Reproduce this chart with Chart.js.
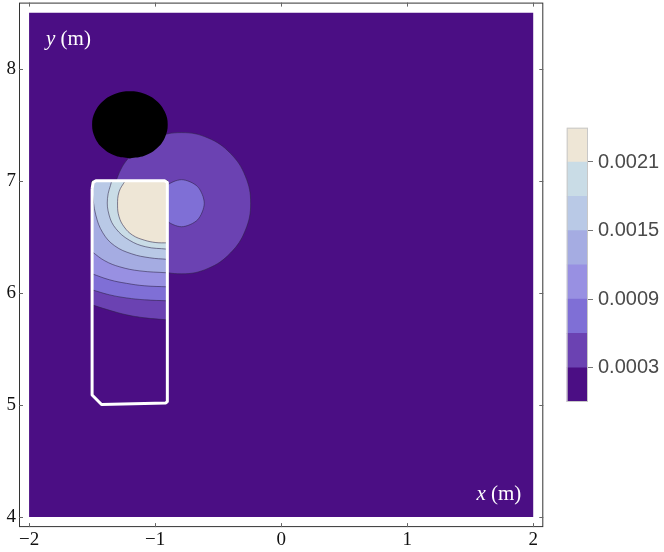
<!DOCTYPE html>
<html>
<head>
<meta charset="utf-8">
<script src="https://cdn.jsdelivr.net/npm/chart.js@4.4.1/dist/chart.umd.min.js"></script>
<style>
  html, body { margin: 0; background: #fff; }
  #plot { position: absolute; left: 0; top: 0; }
  #cbar { position: absolute; left: 555px; top: 115px; }
</style>
</head>
<body>
<canvas id="plot" width="555" height="552"></canvas>
<canvas id="cbar" width="109" height="300"></canvas>
<script>
// ─── Values (x, y in metres) ───
const xTicks = [-2, -1, 0, 1, 2];
const yTicks = [4, 5, 6, 7, 8];
const cbarTicks = [0.0003, 0.0009, 0.0015, 0.0021];
const levelStep = 0.0003;
const bandColors = ['#4b0e84', '#6b42b2', '#7f6fd6', '#9890e2', '#a5ace2', '#b9c9e6', '#c9dce6', '#eee6d6'];

// plotted region
const domain = [[-2, 4], [2, 4], [2, 8.5], [-2, 8.5], [-2, 4]];

// white room outline
const room = [[-1.5, 6.93], [-1.492, 6.985], [-1.47, 7.0], [-0.925, 7.0], [-0.903, 6.985],
              [-0.903, 5.03], [-0.915, 5.018], [-1.425, 5.004], [-1.5, 5.089], [-1.5, 6.93]];
const roomBox = { left: -1.5, right: -0.903, top: 7.0 };

// contour lines inside the room, levels 1..7 (0.0003 .. 0.0021)
const roomLevel1 = [[-1.5, 5.893], [-1.36, 5.844], [-1.227, 5.804], [-1.082, 5.777], [-0.903, 5.759]];
const roomLevel2 = [[-1.5, 6.027], [-1.36, 5.982], [-1.227, 5.955], [-1.082, 5.938], [-0.903, 5.929]];
const roomLevel3 = [[-1.5, 6.170], [-1.36, 6.116], [-1.227, 6.085], [-1.082, 6.063], [-0.903, 6.054]];
const roomLevel4 = [[-1.5, 6.366], [-1.399, 6.286], [-1.28, 6.232], [-1.121, 6.196], [-0.903, 6.179]];
const roomLevel5 = [[-1.5, 6.902], [-1.471, 6.696], [-1.415, 6.536], [-1.321, 6.42], [-1.185, 6.348],
                    [-1.042, 6.313], [-0.903, 6.299]];
const roomLevel6 = [[-1.344, 7.0], [-1.378, 6.842], [-1.365, 6.694], [-1.312, 6.574], [-1.206, 6.471],
                    [-1.074, 6.411], [-0.903, 6.39]];
const roomLevel7 = [[-1.238, 7.0], [-1.286, 6.902], [-1.298, 6.783], [-1.286, 6.679], [-1.246, 6.589],
                    [-1.179, 6.515], [-1.087, 6.471], [-0.994, 6.449], [-0.903, 6.446]];

// contour rings outside the room (listed from the side hidden inside the room)
const ringLevel1 = [[-1.338, 6.8], [-1.296, 6.559], [-1.177, 6.355], [-1.0, 6.218], [-0.79, 6.17],
                    [-0.58, 6.218], [-0.403, 6.355], [-0.284, 6.559], [-0.242, 6.8], [-0.284, 7.041],
                    [-0.403, 7.245], [-0.58, 7.382], [-0.79, 7.43], [-1.0, 7.382], [-1.177, 7.245],
                    [-1.296, 7.041]];
const ringLevel2 = [[-0.97, 6.8], [-0.917, 6.652], [-0.79, 6.59], [-0.663, 6.652], [-0.61, 6.8],
                    [-0.663, 6.948], [-0.79, 7.01], [-0.917, 6.948]];

// black source disc
const sourceDisc = [[-1.2, 7.2], [-1.085, 7.223], [-0.988, 7.288], [-0.923, 7.385], [-0.9, 7.5],
                    [-0.923, 7.615], [-0.988, 7.712], [-1.085, 7.777], [-1.2, 7.8], [-1.315, 7.777],
                    [-1.412, 7.712], [-1.477, 7.615], [-1.5, 7.5], [-1.477, 7.385], [-1.412, 7.288],
                    [-1.315, 7.223]];

// ─── Helpers ───
const pt = ([x, y]) => ({ x, y });
const closedLoop = ring => [...ring, ring[0]].map(pt);

// region of a room level: the contour, then up the right wall and back along the top
// (corners doubled so the spline keeps them sharp)
function roomBand(curve) {
    const first = curve[0], last = curve[curve.length - 1];
    const tr = [roomBox.right, roomBox.top], tl = [roomBox.left, roomBox.top];
    const path = [first, ...curve, last, tr, tr];
    if (first[1] < roomBox.top) path.push(tl, tl);
    path.push(first, first);
    return path.map(pt);
}

function area(data, color, extra) {
    return Object.assign({
        data: data,
        showLine: true,
        fill: 'shape',
        backgroundColor: color,
        borderColor: 'rgba(45,35,70,0.55)',
        borderWidth: 1,
        pointRadius: 0,
        tension: 0.4
    }, extra || {});
}

const roomLevels = [roomLevel1, roomLevel2, roomLevel3, roomLevel4, roomLevel5, roomLevel6, roomLevel7];

const layers = [
    area(domain.map(pt), bandColors[0], { borderWidth: 0, tension: 0 }),
    area(closedLoop(ringLevel1), bandColors[1]),
    area(closedLoop(ringLevel2), bandColors[2], { tension: 0.3 }),
    ...roomLevels.map((c, i) => area(roomBand(c), bandColors[i + 1])),
    area(closedLoop(sourceDisc), '#000', { borderWidth: 0 }),
    {
        data: room.map(pt), showLine: true, fill: false, borderColor: '#fff',
        borderWidth: 3, pointRadius: 0, tension: 0, borderJoinStyle: 'round'
    }
];
// first layer is painted first
layers.forEach((d, i) => { d.order = layers.length - i; });

const serif = "'Liberation Serif', 'DejaVu Serif', serif";
const minus = v => (v < 0 ? '\u2212' + Math.abs(v) : String(v));

// ─── Frame, inward ticks and in-plot axis names ───
const framePlugin = {
    id: 'frame',
    afterDatasetsDraw(chart) {
        const { ctx, chartArea: a, scales: { x, y } } = chart;
        ctx.save();

        ctx.fillStyle = '#fff';
        ctx.textBaseline = 'alphabetic';
        ctx.font = 'italic 21px ' + serif;
        ctx.fillText('y', a.left + 27, 45);
        const wy = ctx.measureText('y ').width;
        ctx.font = '21px ' + serif;
        ctx.fillText('(m)', a.left + 27 + wy, 45);

        ctx.font = '21px ' + serif;
        const wm = ctx.measureText('(m)').width;
        ctx.font = 'italic 21px ' + serif;
        const wx = ctx.measureText('x ').width;
        ctx.fillText('x', a.right - 22 - wm - wx, 500);
        ctx.font = '21px ' + serif;
        ctx.fillText('(m)', a.right - 22 - wm, 500);

        ctx.strokeStyle = '#333';
        ctx.lineWidth = 1;
        ctx.strokeRect(a.left + 0.5, a.top + 0.5, a.width - 1, a.height - 1);

        ctx.strokeStyle = '#666';
        ctx.beginPath();
        xTicks.forEach(v => {
            const px = Math.round(x.getPixelForValue(v)) + 0.5;
            ctx.moveTo(px, a.bottom); ctx.lineTo(px, a.bottom - 4);
            ctx.moveTo(px, a.top); ctx.lineTo(px, a.top + 4);
        });
        yTicks.forEach(v => {
            const py = Math.round(y.getPixelForValue(v)) + 0.5;
            ctx.moveTo(a.left, py); ctx.lineTo(a.left + 4, py);
            ctx.moveTo(a.right, py); ctx.lineTo(a.right - 4, py);
        });
        ctx.stroke();
        ctx.restore();
    }
};

new Chart(document.getElementById('plot'), {
    type: 'scatter',
    data: { datasets: layers },
    options: {
        responsive: false,
        animation: false,
        events: [],
        layout: { padding: { left: 0, top: 2.6, right: 11.7, bottom: 0 } },
        plugins: { legend: { display: false }, tooltip: { enabled: false } },
        scales: {
            x: {
                type: 'linear', min: -2.08, max: 2.08,
                afterBuildTicks: s => { s.ticks = xTicks.map(v => ({ value: v })); },
                afterFit: s => { s.height = 24.9; s.paddingLeft = 0; s.paddingRight = 0; },
                grid: { display: false, drawTicks: false },
                border: { display: false },
                ticks: { padding: 2, color: '#111', font: { family: serif, size: 19 }, callback: minus, maxRotation: 0 }
            },
            y: {
                type: 'linear', min: 3.91, max: 8.59,
                afterBuildTicks: s => { s.ticks = yTicks.map(v => ({ value: v })); },
                afterFit: s => { s.width = 19; s.paddingTop = 0; s.paddingBottom = 0; },
                grid: { display: false, drawTicks: false },
                border: { display: false },
                ticks: { padding: 3, color: '#111', font: { family: serif, size: 19 }, callback: minus }
            }
        }
    },
    plugins: [framePlugin]
});

// ─── Colour bar ───
const boxPlugin = {
    id: 'box',
    afterDatasetsDraw(chart) {
        const { ctx, chartArea: a } = chart;
        ctx.save();
        ctx.strokeStyle = '#c8c8c8';
        ctx.lineWidth = 1;
        ctx.strokeRect(a.left + 0.5, a.top + 0.5, a.width - 1, a.height - 1);
        ctx.restore();
    }
};

new Chart(document.getElementById('cbar'), {
    type: 'bar',
    data: {
        labels: [''],
        datasets: bandColors.map(c => ({
            data: [levelStep], backgroundColor: c, borderWidth: 0,
            barPercentage: 1, categoryPercentage: 1
        }))
    },
    options: {
        responsive: false,
        animation: false,
        events: [],
        layout: { padding: { left: 11.7, top: 12.7, right: 0, bottom: 13 } },
        plugins: { legend: { display: false }, tooltip: { enabled: false } },
        scales: {
            x: { stacked: true, display: false },
            y: {
                stacked: true, position: 'right', min: 0, max: levelStep * bandColors.length,
                afterBuildTicks: s => { s.ticks = cbarTicks.map(v => ({ value: v })); },
                afterFit: s => { s.width = 76; s.paddingTop = 0; s.paddingBottom = 0; },
                grid: { drawOnChartArea: false, drawTicks: true, tickLength: 5, color: '#777' },
                border: { display: false },
                ticks: {
                    padding: 5, color: '#4a4a4a',
                    font: { family: "'Liberation Sans', Arial, sans-serif", size: 20 },
                    callback: v => v.toFixed(4)
                }
            }
        }
    },
    plugins: [boxPlugin]
});
</script>
</body>
</html>
